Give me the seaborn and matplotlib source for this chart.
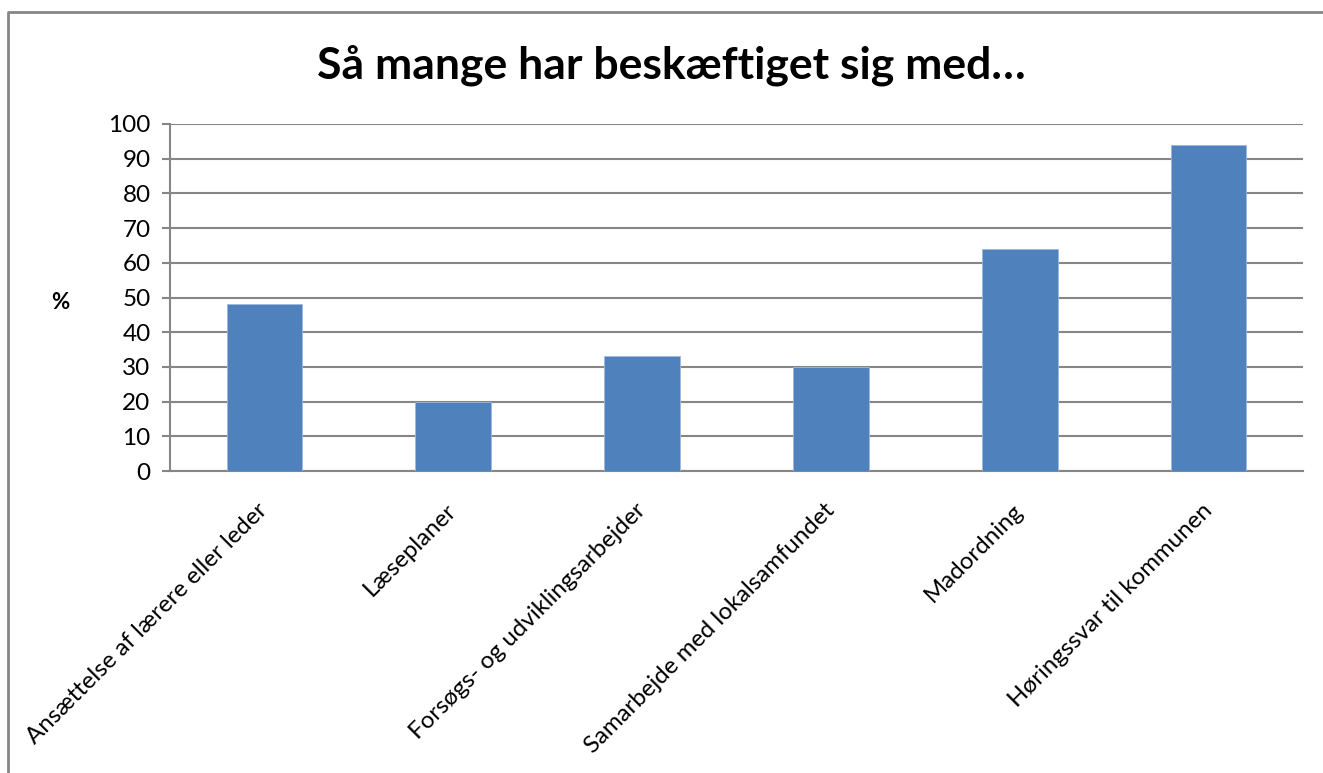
import matplotlib.pyplot as plt
from matplotlib.lines import Line2D
import numpy as np
import seaborn as sns

# Data
categories = ['Ansættelse af lærere eller leder', 'Læseplaner', 'Forsøgs- og udviklingsarbejder',
              'Samarbejde med lokalsamfundet', 'Madordning', 'Høringssvar til kommunen']
percent = [48, 20, 33, 30, 64, 94]
y_ticks = list(range(0, 101, 10))

sns.set_style('white')
plt.rcParams['font.family'] = ['Lato', 'DejaVu Sans']
plt.rcParams['text.color'] = 'black'
plt.rcParams['xtick.color'] = 'black'
plt.rcParams['ytick.color'] = 'black'

fig = plt.figure(figsize=(13.23, 7.73), dpi=100)
ax = fig.add_axes([170 / 1323, 1 - 471 / 773, 1133 / 1323, 347 / 773])

sns.barplot(x=categories, y=percent, color='#4F81BD', width=0.4, saturation=1,
            edgecolor='#9DB9DE', linewidth=0.6, ax=ax, zorder=3)

grid_col = '#868686'
ax.set_ylim(0, 100)
ax.set_xlim(-0.5, len(categories) - 0.5)
ax.set_yticks(y_ticks)
ax.yaxis.grid(True, color=grid_col, linewidth=1.5, zorder=0)
ax.set_axisbelow(True)

for side in ['top', 'right']:
    ax.spines[side].set_visible(False)
for side in ['left', 'bottom']:
    ax.spines[side].set_color(grid_col)
    ax.spines[side].set_linewidth(1.5)

# category labels centred, tick marks on category borders
ax.set_xticks(np.arange(len(categories)))
ax.set_xticklabels(categories, rotation=45, ha='right', va='center',
                   rotation_mode='anchor', fontsize=17.3, color='black')
ax.tick_params(axis='x', length=0, pad=26)
ax.set_xticks(np.arange(len(categories) + 1) - 0.5, minor=True)
ax.tick_params(axis='x', which='minor', length=6, width=1.5, color=grid_col, direction='out')
ax.tick_params(axis='y', length=6, width=1.5, color=grid_col, labelcolor='black',
               labelsize=17.5, pad=8, left=True)

ax.set_xlabel('')
ax.set_ylabel('%', rotation=0, fontweight='bold', fontsize=16, va='center', color='black')
ax.yaxis.set_label_coords(-0.097, 0.487)

fig.text(671 / 1323, 1 - 65 / 773, 'Så mange har beskæftiget sig med…',
         ha='center', va='center', fontsize=32, fontweight='bold', color='black')

# chart area border (top and left visible)
fig.add_artist(Line2D([8 / 1323, 8 / 1323, 1.0], [0.0, 1 - 12 / 773, 1 - 12 / 773],
                      transform=fig.transFigure, color=grid_col, linewidth=2))

plt.savefig('out.png', dpi=100)
